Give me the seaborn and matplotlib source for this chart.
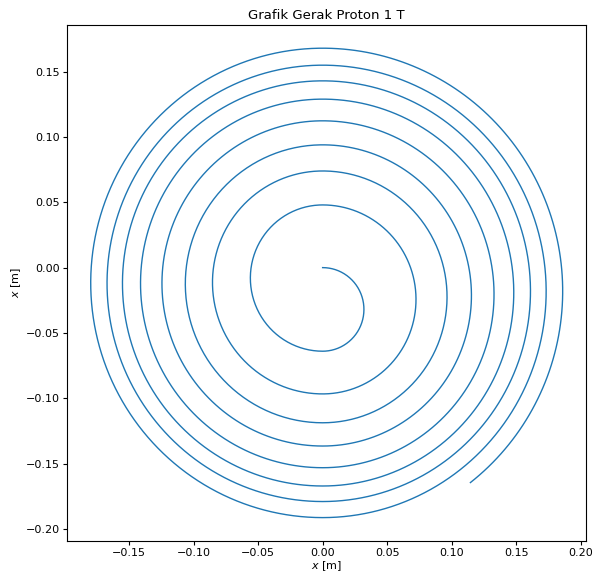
import numpy as np
import pandas as pd
import matplotlib
matplotlib.use("Agg")
import matplotlib.pyplot as plt
import seaborn as sns

# y-values where the orbit crosses x = 0, starting at the origin
crossings = [0.0, -0.064, 0.048, -0.0967, 0.074, -0.1188, 0.094, -0.1366,
             0.1124, -0.1532, 0.129, -0.1672, 0.143, -0.1791, 0.155, -0.1914, 0.168]
# last, unfinished half-turn on the right side
last_radius = 0.186
last_sweep_deg = 142

# build the path: clockwise semicircles between crossings
xs, ys = [], []
for i in range(len(crossings) - 1):
    y0, y1 = crossings[i], crossings[i + 1]
    c = (y0 + y1) / 2
    r = abs(y0 - y1) / 2
    start = np.pi / 2 if y0 > y1 else -np.pi / 2
    th = start - np.linspace(0, np.pi, 200)
    xs.extend(r * np.cos(th))
    ys.extend(c + r * np.sin(th))

c_last = crossings[-1] - last_radius
th = np.pi / 2 - np.linspace(0, np.deg2rad(last_sweep_deg), 200)
xs.extend(last_radius * np.cos(th))
ys.extend(c_last + last_radius * np.sin(th))

df = pd.DataFrame({"x": xs, "y": ys})

fig, ax = plt.subplots(figsize=(5.94, 5.75), dpi=100)
fig.subplots_adjust(left=0.113, right=0.987, bottom=0.059, top=0.957)
sns.lineplot(data=df, x="x", y="y", sort=False, estimator=None, ax=ax,
             color="#1f77b4", linewidth=1.0)

ax.set_title("Grafik Gerak Proton 1 T", fontsize=9.5, pad=4)
ax.set_xlabel("$x$ [m]", fontsize=8, labelpad=1)
ax.set_ylabel("$x$ [m]", fontsize=8, labelpad=2)
ax.tick_params(labelsize=8, pad=2, length=3)

plt.savefig("out.png", dpi=100)
